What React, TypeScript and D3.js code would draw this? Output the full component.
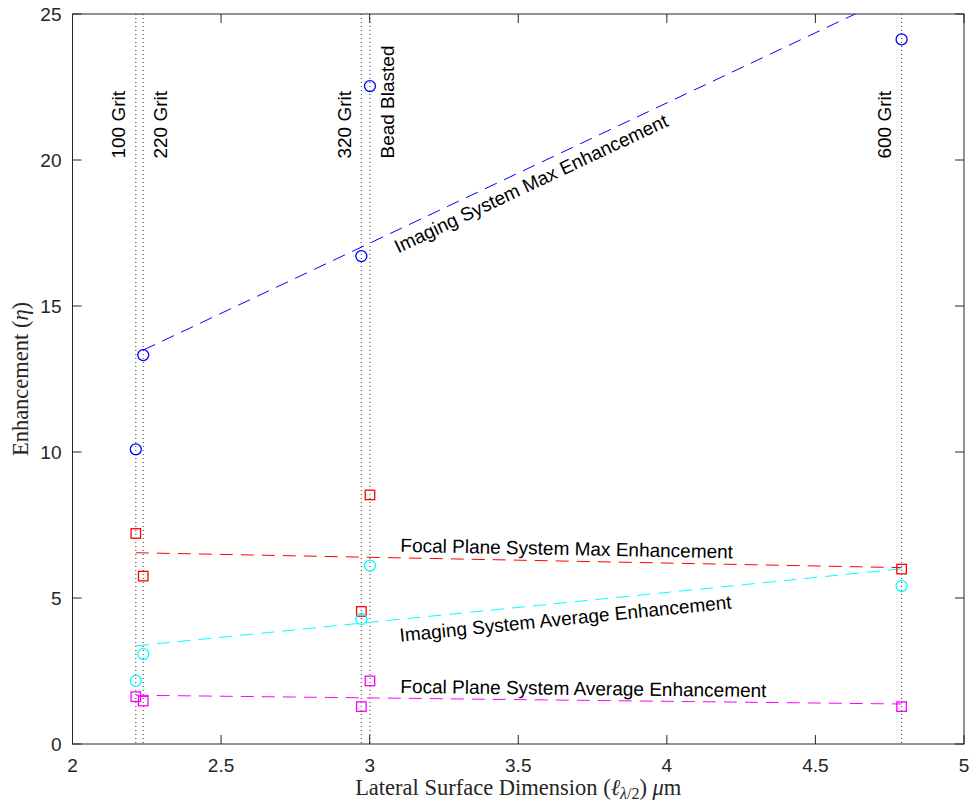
import React from 'react';
import * as d3 from 'd3';

const xDomain = [2, 5];
const yDomain = [0, 25];
const xTicks = [2, 2.5, 3, 3.5, 4, 4.5, 5];
const yTicks = [0, 5, 10, 15, 20, 25];

const surfaceX = [2.213, 2.238, 2.972, 3.001, 4.79];
const surfaceNames = ['100 Grit', '220 Grit', '320 Grit', 'Bead Blasted', '600 Grit'];
const surfaceSide = ['left', 'right', 'left', 'right', 'left'];
const surfaceLabelY = 20.05;

const imagingMax = [10.09, 13.32, 16.71, 22.53, 24.13];
const focalMax = [7.21, 5.75, 4.54, 8.53, 5.99];
const imagingAvg = [2.16, 3.08, 4.28, 6.11, 5.41];
const focalAvg = [1.62, 1.47, 1.28, 2.16, 1.28];

const fitImagingMaxX = [2.238, 4.79];
const fitImagingMaxY = [13.49, 25.75];
const fitFocalMaxX = [2.213, 4.79];
const fitFocalMaxY = [6.55, 6.04];
const fitImagingAvgX = [2.213, 4.79];
const fitImagingAvgY = [3.36, 6.0];
const fitFocalAvgX = [2.213, 4.79];
const fitFocalAvgY = [1.67, 1.37];

const fitLabels = [
  'Imaging System Max Enhancement',
  'Focal Plane System Max Enhancement',
  'Imaging System Average Enhancement',
  'Focal Plane System Average Enhancement',
];
const fitLabelX = [3.096, 3.103, 3.103, 3.103];
const fitLabelY = [16.8, 6.58, 3.5, 1.75];

const W = 971;
const H = 805;
const M = { left: 72.5, right: 964, top: 14, bottom: 744 };

const SANS = '"Liberation Sans", Arial, Helvetica, sans-serif';
const SERIF = '"Liberation Serif", "Times New Roman", serif';
const AX = '#262626';
const FS = 19;

export default function App() {
  const x = d3.scaleLinear().domain(xDomain).range([M.left, M.right]);
  const y = d3.scaleLinear().domain(yDomain).range([M.bottom, M.top]);
  const line = d3
    .line<[number, number]>()
    .x((d) => x(d[0]))
    .y((d) => y(d[1]));

  const fits = [
    { xs: fitImagingMaxX, ys: fitImagingMaxY, color: '#0000ff' },
    { xs: fitFocalMaxX, ys: fitFocalMaxY, color: '#ff0000' },
    { xs: fitImagingAvgX, ys: fitImagingAvgY, color: '#00ffff' },
    { xs: fitFocalAvgX, ys: fitFocalAvgY, color: '#ff00ff' },
  ];

  const series = [
    { vals: imagingMax, color: '#0000ff', shape: 'circle' },
    { vals: focalMax, color: '#ff0000', shape: 'square' },
    { vals: imagingAvg, color: '#00ffff', shape: 'circle' },
    { vals: focalAvg, color: '#ff00ff', shape: 'square' },
  ];

  const tickLen = 9;

  return (
    <svg
      width={W}
      height={H}
      style={{ position: 'absolute', left: 0, top: 0, background: '#fff' }}
    >
      <defs>
        <clipPath id="plotClip">
          <rect x={M.left} y={M.top} width={M.right - M.left} height={M.bottom - M.top} />
        </clipPath>
      </defs>
      <rect x={0} y={0} width={W} height={H} fill="#fff" />

      {/* surface vertical dotted lines */}
      {surfaceX.map((sx, i) => (
        <line
          key={'v' + i}
          x1={x(sx)}
          x2={x(sx)}
          y1={M.top}
          y2={M.bottom}
          stroke="#000"
          strokeWidth={1}
          strokeDasharray="1,3"
          opacity={0.8}
        />
      ))}

      {/* surface labels */}
      {surfaceNames.map((name, i) => {
        const bx = surfaceSide[i] === 'left' ? x(surfaceX[i]) - 10.5 : x(surfaceX[i]) + 24;
        return (
          <text
            key={'sl' + i}
            transform={`translate(${bx},${y(surfaceLabelY)}) rotate(-90)`}
            fontFamily={SANS}
            fontSize={FS}
            fill="#000"
          >
            {name}
          </text>
        );
      })}

      {/* fit lines */}
      <g clipPath="url(#plotClip)">
        {fits.map((f, i) => (
          <path
            key={'f' + i}
            d={line(f.xs.map((v, j) => [v, f.ys[j]] as [number, number])) || ''}
            fill="none"
            stroke={f.color}
            strokeWidth={1}
            strokeDasharray="13,8"
          />
        ))}
      </g>

      {/* markers */}
      {series.map((s, i) =>
        s.vals.map((v, j) =>
          s.shape === 'circle' ? (
            <circle
              key={`m${i}-${j}`}
              cx={x(surfaceX[j])}
              cy={y(v)}
              r={5.5}
              fill="none"
              stroke={s.color}
              strokeWidth={1.3}
            />
          ) : (
            <rect
              key={`m${i}-${j}`}
              x={x(surfaceX[j]) - 4.75}
              y={y(v) - 4.75}
              width={9.5}
              height={9.5}
              fill="none"
              stroke={s.color}
              strokeWidth={1.3}
            />
          )
        )
      )}

      {/* fit labels */}
      {fitLabels.map((lab, i) => {
        const f = fits[i];
        const dx = x(f.xs[1]) - x(f.xs[0]);
        const dy = y(f.ys[1]) - y(f.ys[0]);
        const ang = (Math.atan2(dy, dx) * 180) / Math.PI;
        return (
          <text
            key={'fl' + i}
            transform={`translate(${x(fitLabelX[i])},${y(fitLabelY[i])}) rotate(${ang})`}
            fontFamily={SANS}
            fontSize={FS}
            fill="#000"
          >
            {lab}
          </text>
        );
      })}

      {/* axes box */}
      <rect
        x={M.left}
        y={M.top}
        width={M.right - M.left}
        height={M.bottom - M.top}
        fill="none"
        stroke={AX}
        strokeWidth={1}
      />

      {/* x ticks */}
      {xTicks.map((t, i) => (
        <g key={'xt' + i}>
          <line x1={x(t)} x2={x(t)} y1={M.bottom} y2={M.bottom - tickLen} stroke={AX} strokeWidth={1} />
          <line x1={x(t)} x2={x(t)} y1={M.top} y2={M.top + tickLen} stroke={AX} strokeWidth={1} />
          <text
            x={x(t)}
            y={772}
            textAnchor="middle"
            fontFamily={SANS}
            fontSize={FS}
            fill={AX}
          >
            {d3.format('~g')(t)}
          </text>
        </g>
      ))}

      {/* y ticks */}
      {yTicks.map((t, i) => (
        <g key={'yt' + i}>
          <line x1={M.left} x2={M.left + tickLen} y1={y(t)} y2={y(t)} stroke={AX} strokeWidth={1} />
          <line x1={M.right} x2={M.right - tickLen} y1={y(t)} y2={y(t)} stroke={AX} strokeWidth={1} />
          <text
            x={M.left - 11}
            y={y(t)}
            dy="0.35em"
            textAnchor="end"
            fontFamily={SANS}
            fontSize={FS}
            fill={AX}
          >
            {t}
          </text>
        </g>
      ))}

      {/* axis titles */}
      <text
        x={(M.left + M.right) / 2}
        y={795}
        textAnchor="middle"
        fontFamily={SERIF}
        fontSize={22.5}
        fill={AX}
      >
        Lateral Surface Dimension (<tspan fontStyle="italic">ℓ</tspan>
        <tspan fontSize={16} dy={4} fontStyle="italic">λ</tspan>
        <tspan fontSize={16}>/2</tspan>
        <tspan dy={-4}>) </tspan>
        <tspan fontStyle="italic">μ</tspan>m
      </text>
      <text
        transform={`translate(28,${(M.top + M.bottom) / 2}) rotate(-90)`}
        textAnchor="middle"
        fontFamily={SERIF}
        fontSize={22.5}
        fill={AX}
      >
        Enhancement (<tspan fontStyle="italic">η</tspan>)
      </text>
    </svg>
  );
}
